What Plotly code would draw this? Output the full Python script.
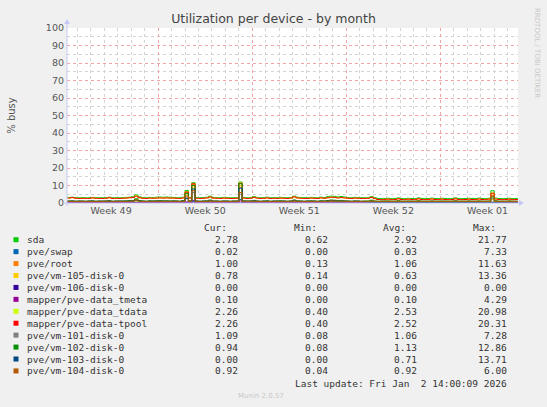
import pandas as pd
import plotly.graph_objects as go

# -------------------- Data (munin diskstats utilization, 6 h samples)
TITLE = 'Utilization per device - by month'
START = '2025-12-01 06:00'
STEP = '6h'
X_RANGE = ['2025-12-01 05:16', '2026-01-03 18:30']

NAMES = [
    'sda', 'pve/swap', 'pve/root', 'pve/vm-105-disk-0', 'pve/vm-106-disk-0',
    'mapper/pve-data_tmeta', 'mapper/pve-data_tdata', 'mapper/pve-data-tpool',
    'pve/vm-101-disk-0', 'pve/vm-102-disk-0', 'pve/vm-103-disk-0',
    'pve/vm-104-disk-0',
]
COLOURS = [
    '#00cc00', '#0066b3', '#ff8000', '#ffcc00', '#330099', '#990099',
    '#ccff00', '#ff0000', '#808080', '#008f00', '#00487d', '#b35a00',
]
CUR = ['2.78', '0.02', '1.00', '0.78', '0.00', '0.10', '2.26', '2.26', '1.09', '0.94', '0.00', '0.92']
MIN = ['0.62', '0.00', '0.13', '0.14', '0.00', '0.00', '0.40', '0.40', '0.08', '0.08', '0.00', '0.04']
AVG = ['2.92', '0.03', '1.06', '0.63', '0.00', '0.10', '2.53', '2.52', '1.06', '1.13', '0.71', '0.92']
MAX = ['21.77', '7.33', '11.63', '13.36', '0.00', '4.29', '20.98', '20.31', '7.28', '12.86', '13.71', '6.00']
LAST_UPDATE = 'Last update: Fri Jan\u00a0 2 14:00:09 2026'
VERSION = 'Munin 2.0.57'
WATERMARK = 'RRDTOOL / TOBI OETIKER'

sda = [
    3.2, 3.3, 3.1, 3.0, 3.1, 3.0, 3.0, 3.2, 3.1, 3.0, 3.0, 3.1, 3.3, 3.0, 3.1,
    3.0, 3.1, 3.2, 3.3, 3.6, 4.6, 3.5, 3.1, 3.0, 3.2, 3.1, 3.3, 3.4, 3.3, 3.4,
    3.3, 3.2, 3.1, 3.0, 3.3, 7.2, 3.2, 11.6, 3.1, 3.0, 3.1, 3.3, 3.9, 3.2, 3.1,
    3.0, 3.2, 3.1, 3.0, 3.0, 3.1, 12.0, 3.2, 3.0, 3.1, 3.6, 3.2, 3.0, 3.1, 3.3,
    3.0, 3.1, 3.0, 3.2, 3.1, 3.0, 3.2, 3.9, 3.3, 3.1, 3.0, 3.0, 3.2, 3.1, 3.0,
    3.3, 3.1, 3.6, 3.9, 3.8, 3.5, 3.7, 3.4, 3.1, 3.0, 3.2, 3.1, 3.0, 3.0, 3.1,
    3.6, 3.0, 2.6, 2.5, 2.6, 2.7, 2.5, 2.6, 2.9, 2.6, 2.5, 2.7, 2.6, 2.5, 2.9,
    2.6, 2.5, 2.6, 2.8, 2.6, 2.5, 2.7, 2.6, 2.5, 2.6, 2.9, 2.6, 2.5, 2.6, 2.7,
    2.6, 2.5, 2.8, 2.6, 2.5, 2.7, 7.0, 2.8, 2.6, 2.5, 2.6, 2.7, 2.5, 2.6, 2.8,
]
swap = [
    0.0, 0.0, 0.0, 0.0, 0.0, 0.0, 0.0, 0.0, 0.0, 0.0, 0.0, 0.0, 0.1, 0.0, 0.0,
    0.0, 0.0, 0.0, 0.0, 0.1, 0.2, 0.0, 0.0, 0.0, 0.0, 0.0, 0.0, 0.0, 0.0, 0.0,
    0.0, 0.0, 0.0, 0.0, 0.0, 0.3, 0.0, 0.8, 0.0, 0.0, 0.0, 0.0, 0.1, 0.0, 0.0,
    0.0, 0.0, 0.0, 0.0, 0.0, 0.0, 2.0, 0.0, 0.0, 0.0, 0.1, 0.0, 0.0, 0.0, 0.0,
    0.0, 0.0, 0.0, 0.0, 0.0, 0.0, 0.0, 0.1, 0.0, 0.0, 0.0, 0.0, 0.0, 0.0, 0.0,
    0.0, 0.0, 0.0, 0.1, 0.0, 0.0, 0.0, 0.0, 0.0, 0.0, 0.0, 0.0, 0.0, 0.0, 0.0,
    0.0, 0.0, 0.0, 0.0, 0.0, 0.0, 0.0, 0.0, 0.0, 0.0, 0.0, 0.0, 0.0, 0.0, 0.0,
    0.0, 0.0, 0.0, 0.0, 0.0, 0.0, 0.0, 0.0, 0.0, 0.0, 0.0, 0.0, 0.0, 0.0, 0.0,
    0.0, 0.0, 0.0, 0.0, 0.0, 0.0, 0.1, 0.0, 0.0, 0.0, 0.0, 0.0, 0.0, 0.0, 0.0,
]
root = [
    1.0, 1.1, 0.9, 1.0, 1.0, 0.9, 1.1, 1.0, 0.9, 1.0, 1.0, 1.1, 1.2, 0.9, 1.0,
    1.0, 1.0, 1.1, 1.2, 1.4, 2.0, 1.3, 1.0, 0.9, 1.1, 1.0, 1.1, 1.2, 1.1, 1.1,
    1.0, 1.1, 1.0, 0.9, 1.3, 6.0, 1.1, 10.5, 1.0, 0.9, 1.0, 1.1, 1.5, 1.0, 1.0,
    0.9, 1.0, 1.0, 0.9, 1.0, 1.0, 9.0, 1.1, 1.0, 1.0, 1.3, 1.0, 0.9, 1.0, 1.1,
    0.9, 1.0, 1.0, 1.1, 1.0, 0.9, 1.0, 1.5, 1.1, 1.0, 0.9, 1.0, 1.1, 1.0, 0.9,
    1.1, 1.0, 1.3, 1.5, 1.4, 1.2, 1.3, 1.1, 1.0, 0.9, 1.0, 1.0, 0.9, 1.0, 1.0,
    1.4, 1.0, 0.9, 1.0, 1.0, 1.1, 0.9, 1.0, 1.2, 1.0, 0.9, 1.0, 1.0, 0.9, 1.2,
    1.0, 0.9, 1.0, 1.1, 1.0, 0.9, 1.0, 1.0, 0.9, 1.0, 1.2, 1.0, 0.9, 1.0, 1.1,
    1.0, 0.9, 1.1, 1.0, 0.9, 1.0, 4.5, 1.2, 1.0, 0.9, 1.0, 1.1, 0.9, 1.0, 1.0,
]
vm105 = [
    0.6, 0.6, 0.5, 0.6, 0.6, 0.5, 0.6, 0.6, 0.5, 0.6, 0.6, 0.6, 0.7, 0.5, 0.6,
    0.6, 0.6, 0.6, 0.7, 0.8, 1.2, 0.7, 0.6, 0.5, 0.6, 0.6, 0.6, 0.7, 0.6, 0.6,
    0.6, 0.6, 0.6, 0.5, 0.8, 4.5, 0.6, 9.0, 0.6, 0.5, 0.6, 0.6, 0.9, 0.6, 0.6,
    0.5, 0.6, 0.6, 0.5, 0.6, 0.6, 10.0, 0.6, 0.6, 0.6, 0.8, 0.6, 0.5, 0.6, 0.6,
    0.5, 0.6, 0.6, 0.6, 0.6, 0.5, 0.6, 0.9, 0.6, 0.6, 0.5, 0.6, 0.6, 0.6, 0.5,
    0.6, 0.6, 0.7, 0.9, 0.8, 0.7, 0.8, 0.6, 0.6, 0.5, 0.6, 0.6, 0.5, 0.6, 0.6,
    0.8, 0.6, 0.5, 0.6, 0.6, 0.6, 0.5, 0.6, 0.7, 0.6, 0.5, 0.6, 0.6, 0.5, 0.7,
    0.6, 0.5, 0.6, 0.6, 0.6, 0.5, 0.6, 0.6, 0.5, 0.6, 0.7, 0.6, 0.5, 0.6, 0.6,
    0.6, 0.5, 0.6, 0.6, 0.5, 0.6, 2.0, 0.7, 0.6, 0.5, 0.6, 0.6, 0.5, 0.8, 0.8,
]
vm106 = [
    0.0, 0.0, 0.0, 0.0, 0.0, 0.0, 0.0, 0.0, 0.0, 0.0, 0.0, 0.0, 0.0, 0.0, 0.0,
    0.0, 0.0, 0.0, 0.0, 0.0, 0.0, 0.0, 0.0, 0.0, 0.0, 0.0, 0.0, 0.0, 0.0, 0.0,
    0.0, 0.0, 0.0, 0.0, 0.0, 0.0, 0.0, 0.0, 0.0, 0.0, 0.0, 0.0, 0.0, 0.0, 0.0,
    0.0, 0.0, 0.0, 0.0, 0.0, 0.0, 0.0, 0.0, 0.0, 0.0, 0.0, 0.0, 0.0, 0.0, 0.0,
    0.0, 0.0, 0.0, 0.0, 0.0, 0.0, 0.0, 0.0, 0.0, 0.0, 0.0, 0.0, 0.0, 0.0, 0.0,
    0.0, 0.0, 0.0, 0.0, 0.0, 0.0, 0.0, 0.0, 0.0, 0.0, 0.0, 0.0, 0.0, 0.0, 0.0,
    0.0, 0.0, 0.0, 0.0, 0.0, 0.0, 0.0, 0.0, 0.0, 0.0, 0.0, 0.0, 0.0, 0.0, 0.0,
    0.0, 0.0, 0.0, 0.0, 0.0, 0.0, 0.0, 0.0, 0.0, 0.0, 0.0, 0.0, 0.0, 0.0, 0.0,
    0.0, 0.0, 0.0, 0.0, 0.0, 0.0, 0.0, 0.0, 0.0, 0.0, 0.0, 0.0, 0.0, 0.0, 0.0,
]
tmeta = [
    0.1, 0.1, 0.1, 0.1, 0.1, 0.1, 0.1, 0.1, 0.1, 0.1, 0.1, 0.1, 0.1, 0.1, 0.1,
    0.1, 0.1, 0.1, 0.1, 0.2, 0.2, 0.1, 0.1, 0.1, 0.1, 0.1, 0.1, 0.1, 0.1, 0.1,
    0.1, 0.1, 0.1, 0.1, 0.1, 0.6, 0.1, 1.5, 0.1, 0.1, 0.1, 0.1, 0.2, 0.1, 0.1,
    0.1, 0.1, 0.1, 0.1, 0.1, 0.1, 1.2, 0.1, 0.1, 0.1, 0.1, 0.1, 0.1, 0.1, 0.1,
    0.1, 0.1, 0.1, 0.1, 0.1, 0.1, 0.1, 0.2, 0.1, 0.1, 0.1, 0.1, 0.1, 0.1, 0.1,
    0.1, 0.1, 0.1, 0.2, 0.1, 0.1, 0.1, 0.1, 0.1, 0.1, 0.1, 0.1, 0.1, 0.1, 0.1,
    0.1, 0.1, 0.1, 0.1, 0.1, 0.1, 0.1, 0.1, 0.1, 0.1, 0.1, 0.1, 0.1, 0.1, 0.1,
    0.1, 0.1, 0.1, 0.1, 0.1, 0.1, 0.1, 0.1, 0.1, 0.1, 0.1, 0.1, 0.1, 0.1, 0.1,
    0.1, 0.1, 0.1, 0.1, 0.1, 0.1, 0.3, 0.1, 0.1, 0.1, 0.1, 0.1, 0.1, 0.1, 0.1,
]
tdata = [
    2.8, 3.1, 2.7, 2.6, 2.7, 2.6, 2.6, 2.9, 2.7, 2.6, 2.6, 2.7, 3.0, 2.6, 2.7,
    2.6, 2.7, 2.8, 3.0, 3.2, 4.0, 3.0, 2.7, 2.6, 2.8, 2.7, 2.8, 2.9, 2.8, 2.9,
    2.8, 2.8, 2.7, 2.6, 2.9, 6.4, 2.8, 11.2, 2.7, 2.6, 2.7, 2.9, 3.4, 2.8, 2.7,
    2.6, 2.8, 2.7, 2.6, 2.6, 2.7, 11.6, 2.8, 2.6, 2.7, 3.2, 2.8, 2.6, 2.7, 2.9,
    2.6, 2.7, 2.6, 2.8, 2.7, 2.6, 2.8, 3.5, 2.9, 2.7, 2.6, 2.6, 2.8, 2.7, 2.6,
    2.9, 2.7, 3.0, 3.3, 3.2, 2.9, 3.1, 2.9, 2.7, 2.6, 2.8, 2.7, 2.6, 2.6, 2.7,
    3.2, 2.5, 2.0, 1.9, 2.1, 2.2, 1.9, 2.0, 2.4, 2.0, 1.9, 2.2, 2.0, 1.9, 2.4,
    2.0, 1.9, 2.1, 2.3, 2.0, 1.9, 2.2, 2.0, 1.9, 2.0, 2.4, 2.0, 1.9, 2.0, 2.2,
    2.0, 1.9, 2.3, 2.0, 1.9, 2.2, 5.8, 2.3, 2.0, 1.9, 2.0, 2.2, 1.9, 2.0, 2.3,
]
tpool = [
    2.8, 3.1, 2.7, 2.6, 2.7, 2.6, 2.6, 2.9, 2.7, 2.6, 2.6, 2.7, 3.0, 2.6, 2.7,
    2.6, 2.7, 2.8, 3.0, 3.2, 3.9, 3.0, 2.7, 2.6, 2.8, 2.7, 2.8, 2.9, 2.8, 2.9,
    2.8, 2.8, 2.7, 2.6, 2.9, 6.3, 2.8, 11.0, 2.7, 2.6, 2.7, 2.9, 3.4, 2.8, 2.7,
    2.6, 2.8, 2.7, 2.6, 2.6, 2.7, 11.3, 2.8, 2.6, 2.7, 3.2, 2.8, 2.6, 2.7, 2.9,
    2.6, 2.7, 2.6, 2.8, 2.7, 2.6, 2.8, 3.5, 2.9, 2.7, 2.6, 2.6, 2.8, 2.7, 2.6,
    2.9, 2.7, 3.0, 3.3, 3.2, 2.9, 3.1, 2.9, 2.7, 2.6, 2.8, 2.7, 2.6, 2.6, 2.7,
    3.2, 2.5, 2.0, 1.9, 2.1, 2.2, 1.9, 2.0, 2.4, 2.0, 1.9, 2.2, 2.0, 1.9, 2.4,
    2.0, 1.9, 2.1, 2.3, 2.0, 1.9, 2.2, 2.0, 1.9, 2.0, 2.4, 2.0, 1.9, 2.0, 2.2,
    2.0, 1.9, 2.3, 2.0, 1.9, 2.2, 5.6, 2.3, 2.0, 1.9, 2.0, 2.2, 1.9, 2.0, 2.3,
]
vm101 = [
    1.0, 1.0, 1.1, 1.0, 0.9, 1.0, 1.0, 1.1, 1.0, 1.0, 0.9, 1.0, 1.1, 1.0, 1.0,
    1.1, 1.0, 1.0, 1.1, 1.2, 1.6, 1.2, 1.0, 1.0, 1.0, 1.1, 1.0, 1.1, 1.0, 1.0,
    1.0, 1.0, 1.1, 1.0, 1.2, 3.0, 1.0, 6.0, 1.1, 1.0, 1.0, 1.0, 1.3, 1.0, 1.0,
    1.0, 1.1, 1.0, 1.0, 1.0, 1.1, 5.0, 1.0, 1.0, 1.1, 1.2, 1.0, 1.0, 1.0, 1.1,
    1.0, 1.0, 1.1, 1.0, 1.0, 1.0, 1.1, 1.3, 1.0, 1.0, 1.0, 1.1, 1.0, 1.0, 1.0,
    1.1, 1.0, 1.2, 1.3, 1.2, 1.1, 1.2, 1.0, 1.0, 1.0, 1.1, 1.0, 1.0, 1.0, 1.0,
    1.2, 1.0, 1.0, 1.0, 1.1, 1.0, 1.0, 1.0, 1.1, 1.0, 1.0, 1.0, 1.1, 1.0, 1.1,
    1.0, 1.0, 1.0, 1.1, 1.0, 1.0, 1.0, 1.1, 1.0, 1.0, 1.1, 1.0, 1.0, 1.0, 1.1,
    1.0, 1.0, 1.1, 1.0, 1.0, 1.0, 2.5, 1.1, 1.0, 1.0, 1.0, 1.1, 1.0, 1.1, 1.1,
]
vm102 = [
    1.1, 1.2, 1.0, 1.1, 1.1, 1.0, 1.1, 1.2, 1.0, 1.1, 1.1, 1.1, 1.3, 1.0, 1.1,
    1.1, 1.1, 1.2, 1.3, 1.5, 2.4, 1.4, 1.1, 1.0, 1.2, 1.1, 1.2, 1.3, 1.2, 1.2,
    1.1, 1.2, 1.1, 1.0, 1.4, 5.5, 1.2, 10.0, 1.1, 1.0, 1.1, 1.2, 1.7, 1.1, 1.1,
    1.0, 1.1, 1.1, 1.0, 1.1, 1.1, 11.0, 1.2, 1.1, 1.1, 1.5, 1.1, 1.0, 1.1, 1.2,
    1.0, 1.1, 1.1, 1.2, 1.1, 1.0, 1.1, 1.7, 1.2, 1.1, 1.0, 1.1, 1.2, 1.1, 1.0,
    1.2, 1.1, 1.4, 1.7, 1.6, 1.3, 1.5, 1.2, 1.1, 1.0, 1.1, 1.1, 1.0, 1.1, 1.1,
    1.6, 1.1, 1.0, 1.0, 1.1, 1.1, 1.0, 1.0, 1.2, 1.0, 1.0, 1.1, 1.0, 1.0, 1.2,
    1.0, 1.0, 1.0, 1.1, 1.0, 1.0, 1.1, 1.0, 1.0, 1.0, 1.2, 1.0, 1.0, 1.0, 1.1,
    1.0, 1.0, 1.1, 1.0, 1.0, 1.1, 3.5, 1.2, 1.0, 1.0, 1.0, 1.1, 1.0, 0.9, 0.9,
]
vm103 = [
    1.0, 1.0, 0.9, 1.0, 1.0, 0.9, 1.0, 1.0, 0.9, 1.0, 1.0, 1.0, 1.1, 0.9, 1.0,
    1.0, 1.0, 1.0, 1.1, 1.1, 1.3, 1.1, 1.0, 0.9, 1.0, 1.0, 1.0, 1.1, 1.0, 1.0,
    1.0, 1.0, 1.0, 0.9, 1.1, 2.5, 1.0, 8.0, 1.0, 0.9, 1.0, 1.0, 1.2, 1.0, 1.0,
    0.9, 1.0, 1.0, 0.9, 1.0, 1.0, 8.5, 1.0, 1.0, 1.0, 1.1, 1.0, 0.9, 1.0, 1.0,
    0.9, 1.0, 1.0, 1.0, 1.0, 0.9, 1.0, 1.2, 1.0, 1.0, 0.9, 1.0, 1.0, 1.0, 0.9,
    1.0, 1.0, 1.1, 1.2, 1.1, 1.0, 1.1, 1.0, 1.0, 0.9, 1.0, 1.0, 0.9, 0.7, 0.5,
    0.6, 0.4, 0.3, 0.3, 0.3, 0.4, 0.3, 0.3, 0.4, 0.3, 0.3, 0.3, 0.3, 0.3, 0.4,
    0.3, 0.3, 0.3, 0.3, 0.3, 0.3, 0.3, 0.3, 0.3, 0.3, 0.4, 0.3, 0.3, 0.3, 0.3,
    0.3, 0.3, 0.3, 0.3, 0.2, 0.3, 0.5, 0.3, 0.2, 0.1, 0.0, 0.0, 0.0, 0.0, 0.0,
]
vm104 = [
    0.9, 0.9, 0.8, 0.9, 0.9, 0.8, 0.9, 0.9, 0.8, 0.9, 0.9, 0.9, 1.0, 0.8, 0.9,
    0.9, 0.9, 0.9, 1.0, 1.1, 1.6, 1.0, 0.9, 0.8, 0.9, 0.9, 0.9, 1.0, 0.9, 0.9,
    0.9, 0.9, 0.9, 0.8, 1.0, 4.0, 0.9, 7.0, 0.9, 0.8, 0.9, 0.9, 1.2, 0.9, 0.9,
    0.8, 0.9, 0.9, 0.8, 0.9, 0.9, 6.0, 0.9, 0.9, 0.9, 1.1, 0.9, 0.8, 0.9, 0.9,
    0.8, 0.9, 0.9, 0.9, 0.9, 0.8, 0.9, 1.2, 0.9, 0.9, 0.8, 0.9, 0.9, 0.9, 0.8,
    0.9, 0.9, 1.0, 1.2, 1.1, 1.0, 1.1, 0.9, 0.9, 0.8, 0.9, 0.9, 0.8, 0.9, 0.9,
    1.1, 0.9, 0.8, 0.9, 0.9, 0.9, 0.8, 0.9, 1.0, 0.9, 0.8, 0.9, 0.9, 0.8, 1.0,
    0.9, 0.8, 0.9, 0.9, 0.9, 0.8, 0.9, 0.9, 0.8, 0.9, 1.0, 0.9, 0.8, 0.9, 0.9,
    0.9, 0.8, 0.9, 0.9, 0.8, 0.9, 4.0, 1.0, 0.9, 0.8, 0.9, 0.9, 0.8, 0.9, 0.9,
]

SERIES = [sda, swap, root, vm105, vm106, tmeta, tdata, tpool, vm101, vm102, vm103, vm104]

# -------------------- Geometry (pixels of the 547x407 munin png)
W, H = 547, 407
L, R, T, B = 67, 518, 28, 203


def px(x):
    return (x - L) / (R - L)


def py(y):
    return (B - y) / (B - T)


MONO = 'DejaVu Sans Mono'
SANS = 'DejaVu Sans'
AXIS_COLOUR = '#c4c8f4'

times = pd.date_range(START, periods=len(sda), freq=STEP)

fig = go.Figure()
for name, colour, values in zip(NAMES, COLOURS, SERIES):
    fig.add_trace(go.Scatter(
        x=times, y=values, name=name, mode='lines',
        line=dict(color=colour, width=1, shape='hv'),
    ))

fig.update_layout(
    width=W, height=H,
    # autoexpand off: the legend table lives outside the plot area
    margin=dict(l=L, r=W - R, t=T, b=H - B, autoexpand=False),
    paper_bgcolor='#f0f0f0',
    plot_bgcolor='#ffffff',
    showlegend=False,
    font=dict(family=SANS, color='#555555'),
    title=dict(
        text=TITLE, x=0.5, xanchor='center', y=1 - 19 / H, yanchor='middle',
        font=dict(family=SANS, size=12.5, color='#444444'),
    ),
)

fig.update_xaxes(
    range=X_RANGE,
    type='date',
    tick0='2025-12-01', dtick=7 * 86400000,
    ticklabelmode='period', tickformat='Week %V',
    ticks='', tickfont=dict(size=9.5, color='#555555'),
    showgrid=True, gridcolor='#f2a4a4', griddash='dot', gridwidth=1,
    minor=dict(dtick=86400000, showgrid=True, gridcolor='#d4d4d4',
               griddash='dot', gridwidth=1),
    zeroline=False, showline=False,
)
fig.update_yaxes(
    range=[0, 100], dtick=10, ticks='',
    tickfont=dict(size=9.5, color='#555555'),
    ticklabelstandoff=2,
    showgrid=True, gridcolor='#f2a4a4', griddash='dot', gridwidth=1,
    minor=dict(dtick=5, showgrid=True, gridcolor='#d4d4d4',
               griddash='dot', gridwidth=1),
    zeroline=False, showline=False,
    title=dict(text='% busy', font=dict(size=10, color='#555555'), standoff=28),
)

# -------------------- Axis lines with arrows (rrdtool style)
shapes = [
    dict(type='line', xref='paper', yref='paper',
         x0=px(63), x1=px(520), y0=py(B), y1=py(B),
         line=dict(color=AXIS_COLOUR, width=1)),
    dict(type='line', xref='paper', yref='paper',
         x0=px(L), x1=px(L), y0=py(206), y1=py(23),
         line=dict(color=AXIS_COLOUR, width=1)),
    dict(type='path', xref='paper', yref='paper',
         path=f'M {px(519)} {py(B - 3)} L {px(524)} {py(B)} L {px(519)} {py(B + 3)} Z',
         fillcolor=AXIS_COLOUR, line=dict(width=0)),
    dict(type='path', xref='paper', yref='paper',
         path=f'M {px(L - 3)} {py(24)} L {px(L)} {py(19)} L {px(L + 3)} {py(24)} Z',
         fillcolor=AXIS_COLOUR, line=dict(width=0)),
]

# -------------------- Munin legend table
annotations = []
ROW0, ROW_STEP = 239.7, 11.93
HEAD_Y = 227.3
COL_RIGHT = [240, 330, 419, 509]
HEADERS = ['Cur:', 'Min:', 'Avg:', 'Max:']


def text_at(x, y, text, anchor, size=9.5, colour='#333333', family=MONO):
    annotations.append(dict(
        text=text, x=px(x), y=py(y), xref='paper', yref='paper',
        xanchor=anchor, yanchor='middle', showarrow=False,
        font=dict(family=family, size=size, color=colour),
    ))


for head, right in zip(HEADERS, COL_RIGHT):
    text_at(right - 11.4, HEAD_Y, head, 'right')

for i, name in enumerate(NAMES):
    y = ROW0 + i * ROW_STEP
    shapes.append(dict(
        type='rect', xref='paper', yref='paper',
        x0=px(13.5), x1=px(18.5), y0=py(y + 2.5), y1=py(y - 2.5),
        fillcolor=COLOURS[i], line=dict(width=0),
    ))
    text_at(25, y, name, 'left')
    for col, right in zip((CUR, MIN, AVG, MAX), COL_RIGHT):
        text_at(right, y, col[i], 'right')

text_at(509, 383.3, LAST_UPDATE, 'right')
text_at(261, 395.7, VERSION, 'center', size=7, colour='#c8c8c8', family=SANS)
annotations.append(dict(
    text=WATERMARK, x=px(537), y=py(53), xref='paper', yref='paper',
    xanchor='center', yanchor='middle', showarrow=False, textangle=90,
    font=dict(family=SANS, size=7, color='#c8c8c8'),
))

fig.update_layout(shapes=shapes, annotations=annotations)

# the page's default 8px body margin would shift the whole png-sized figure
fig.write_html(
    'out.html',
    config={'displayModeBar': False},
    post_script="document.body.style.margin = '0';",
)
